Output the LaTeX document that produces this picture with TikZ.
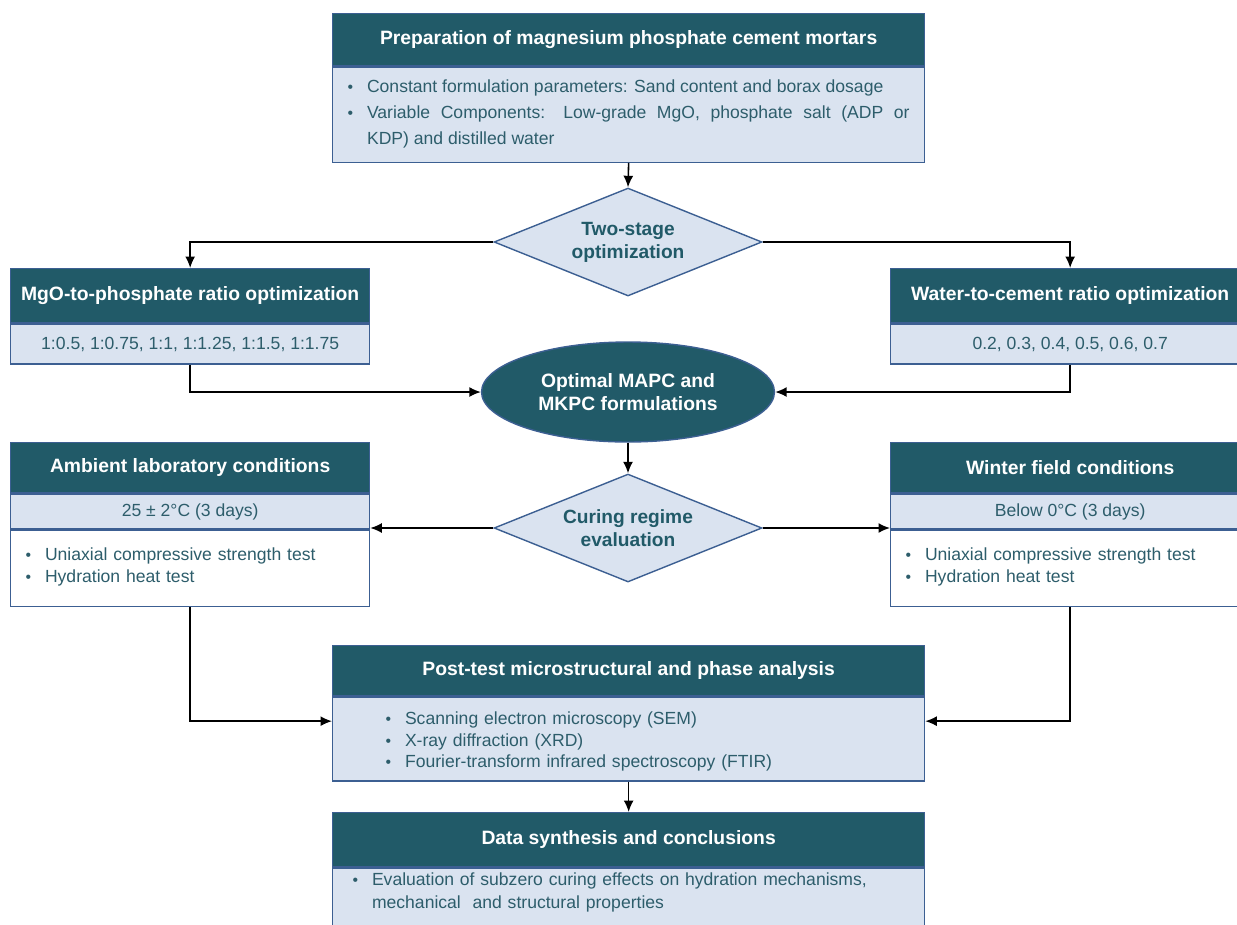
\documentclass[tikz,border=0pt]{standalone}
\usepackage{fontspec}
\setmainfont{Liberation Sans}
\usetikzlibrary{arrows.meta,positioning,shapes.geometric,calc}

\definecolor{hdrteal}{HTML}{215A68}
\definecolor{paleblue}{HTML}{DAE3F0}
\definecolor{edgeblue}{HTML}{3C5F92}
\definecolor{bodytext}{HTML}{2D5D6B}

% bullet line with hanging indent
\newcommand{\bitem}{\par\noindent\hangindent=11pt\hangafter=1\makebox[11pt][l]{\small\textbullet}}

\begin{document}
\begin{tikzpicture}[x=0.02cm, y=-0.02cm, >={Latex[length=2.3mm,width=2mm]},
	hdr/.style={draw=edgeblue, line width=0.8pt, fill=hdrteal, text=white, font=\bfseries\fontsize{11}{13}\selectfont, inner sep=0pt, anchor=north west},
	body/.style={draw=edgeblue, line width=0.8pt, fill=paleblue, text=bodytext, font=\fontsize{10}{12.5}\selectfont, inner sep=0pt, below=0pt of #1},
	plain/.style={body=#1, fill=white},
	choice/.style={diamond, aspect=2.48, draw=edgeblue, line width=0.8pt, fill=paleblue, text=hdrteal, font=\bfseries\fontsize{10.9}{13}\selectfont, align=center, inner sep=0pt, minimum width=5.36cm, minimum height=2.16cm},
	link/.style={line width=0.9pt, ->}]
	\path[use as bounding box, clip] (0,0) rectangle (1237,924);

	% preparation
	\node[hdr, minimum width=11.84cm, minimum height=1.04cm] (prephdr) at (332,13) {Preparation of magnesium phosphate cement mortars};
	\node[body=prephdr, minimum height=1.9cm, inner xsep=0.3cm, text width=11.24cm, align=justify, font=\fontsize{10}{14.7}\selectfont] (prepbody) {\bitem Constant formulation parameters: Sand content and borax dosage\bitem Variable Components: Low-grade MgO, phosphate salt (ADP or\linebreak KDP) and distilled water\par\vspace*{0.28cm}};

	\node[choice] (twostage) at (628,242) {Two-stage\\optimization};

	% ratio optimization
	\node[hdr, minimum width=7.18cm, minimum height=1.08cm] (mgohdr) at (10,268) {MgO-to-phosphate ratio optimization};
	\node[body=mgohdr, minimum width=7.18cm, minimum height=0.8cm] (mgobody) {1:0.5, 1:0.75, 1:1, 1:1.25, 1:1.5, 1:1.75};
	\node[hdr, minimum width=7.18cm, minimum height=1.08cm] (wchdr) at (890,268) {Water-to-cement ratio optimization};
	\node[body=wchdr, minimum width=7.18cm, minimum height=0.8cm] (wcbody) {0.2, 0.3, 0.4, 0.5, 0.6, 0.7};

	\node[ellipse, draw=edgeblue, line width=0.8pt, fill=hdrteal, text=white, font=\bfseries\fontsize{11}{13.5}\selectfont, align=center, inner sep=0pt, minimum width=5.86cm, minimum height=2cm] (optimal) at (628,392) {Optimal MAPC and\\MKPC formulations};

	\node[choice] (curing) at (628,528) {Curing regime\\evaluation};

	% curing conditions
	\node[hdr, minimum width=7.18cm, minimum height=1cm] (ambhdr) at (10,442) {Ambient laboratory conditions};
	\node[body=ambhdr, minimum width=7.18cm, minimum height=0.7cm] (ambsub) {25 ± 2°C (3 days)};
	\node[plain=ambsub, minimum height=1.52cm, inner xsep=0.3cm, text width=6.58cm, align=left, font=\fontsize{10}{12.4}\selectfont] (ambtest) {\bitem Uniaxial compressive strength test\bitem Hydration heat test\par\vspace*{0.24cm}};
	\node[hdr, minimum width=7.18cm, minimum height=1cm] (winhdr) at (890,442) {Winter field conditions};
	\node[body=winhdr, minimum width=7.18cm, minimum height=0.7cm] (winsub) {Below 0°C (3 days)};
	\node[plain=winsub, minimum height=1.52cm, inner xsep=0.3cm, text width=6.58cm, align=left, font=\fontsize{10}{12.4}\selectfont] (wintest) {\bitem Uniaxial compressive strength test\bitem Hydration heat test\par\vspace*{0.24cm}};

	% analysis
	\node[hdr, minimum width=11.84cm, minimum height=1cm] (posthdr) at (332,645) {Post-test microstructural and phase analysis};
	\node[body=posthdr, minimum height=1.68cm, inner xsep=1.06cm, text width=9.72cm, align=left, font=\fontsize{10}{12.4}\selectfont] (postbody) {\bitem Scanning electron microscopy (SEM)\bitem X-ray diffraction (XRD)\bitem Fourier-transform infrared spectroscopy (FTIR)\par\vspace*{0.08cm}};

	\node[hdr, minimum width=11.84cm, minimum height=1.08cm] (datahdr) at (332,812) {Data synthesis and conclusions};
	\node[body=datahdr, minimum height=1.76cm, inner xsep=0.4cm, text width=11.04cm, align=left, font=\fontsize{10}{13}\selectfont] (databody) {\vspace*{-0.1cm}\bitem Evaluation of subzero curing effects on hydration mechanisms,\newline mechanical~ and structural properties\par\vspace*{1.1cm}};

	\draw[link] (prepbody.south) -- (twostage.north);
	\draw[link] (twostage.west) -| (mgohdr.north);
	\draw[link] (twostage.east) -| (wchdr.north);
	\draw[link] (mgobody.south) |- (optimal.west);
	\draw[link] (wcbody.south) |- (optimal.east);
	\draw[link] (optimal.south) -- (curing.north);
	\draw[link] (curing.west) -- (curing.west -| ambtest.east);
	\draw[link] (curing.east) -- (curing.east -| wintest.west);
	\draw[link] (ambtest.south) |- ($(postbody.north west)!0.29!(postbody.south west)$);
	\draw[link] (wintest.south) |- ($(postbody.north east)!0.29!(postbody.south east)$);
	\draw[link] (postbody.south) -- (datahdr.north);
\end{tikzpicture}
\end{document}
